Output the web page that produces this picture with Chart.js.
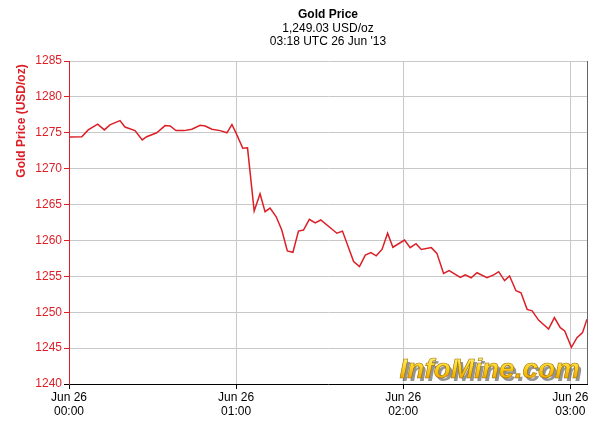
<!DOCTYPE html>
<html>
<head>
<meta charset="utf-8">
<script src="https://cdn.jsdelivr.net/npm/chart.js@4"></script>
<style>
  html, body { margin: 0; padding: 0; background: #ffffff; }
  canvas { display: block; }
</style>
</head>
<body>
<canvas id="c" width="600" height="428"></canvas>
<script>
// Minutes after 00:00 UTC, Jun 26
const minutes = [0, 4.6, 6.9, 10.3, 12.7, 14.7, 18.3, 20.1, 23.7, 26.3, 27.9, 31.5, 34.5, 36.3, 38.4, 41.3, 44.1, 47.1, 48.9, 51.3, 54.3, 56.7, 58.5, 60.0, 62.4, 64.1, 66.5, 68.6, 70.4, 72.2, 74.4, 76.4, 78.4, 80.4, 82.4, 84.2, 86.3, 88.4, 90.4, 96.2, 98.2, 102.2, 104.3, 106.4, 108.4, 110.3, 112.4, 114.4, 116.3, 120.5, 122.5, 124.6, 126.5, 130.1, 132.1, 134.5, 136.5, 140.5, 142.3, 144.4, 146.5, 150.1, 152.5, 154.3, 156.4, 158.2, 160.5, 162.3, 164.5, 166.3, 168.6, 172.2, 174.3, 176.4, 178.0, 180.4, 182.4, 184.4, 186.0];
const prices = [1274.4, 1274.45, 1275.4, 1276.2, 1275.4, 1276.1, 1276.7, 1275.8, 1275.3, 1274.0, 1274.45, 1275.0, 1276.0, 1275.95, 1275.3, 1275.3, 1275.5, 1276.05, 1275.95, 1275.5, 1275.3, 1275.0, 1276.15, 1274.95, 1272.85, 1272.9, 1264.1, 1266.5, 1264.0, 1264.5, 1263.3, 1261.45, 1258.55, 1258.35, 1261.3, 1261.45, 1262.95, 1262.45, 1262.85, 1261.0, 1261.3, 1257.05, 1256.35, 1257.95, 1258.3, 1257.85, 1258.75, 1261.0, 1259.05, 1260.05, 1259.0, 1259.55, 1258.75, 1259.0, 1258.2, 1255.4, 1255.8, 1254.85, 1255.2, 1254.8, 1255.5, 1254.8, 1255.2, 1255.65, 1254.4, 1255.05, 1253.0, 1252.7, 1250.4, 1250.2, 1248.9, 1247.65, 1249.25, 1247.85, 1247.4, 1245.1, 1246.45, 1247.15, 1249.03];
const xTickValues = [0, 60, 120, 180];
const xTickDates = ["Jun 26", "Jun 26", "Jun 26", "Jun 26"];
const xTickTimes = ["00:00", "01:00", "02:00", "03:00"];
const titleLines = ["Gold Price", "1,249.03 USD/oz", "03:18 UTC 26 Jun '13"];
const yAxisTitle = "Gold Price (USD/oz)";
const watermark = "InfoMine.com";

const RED = '#dc1f26';
const GRID = '#c8c8c8';
const FONT = '"Liberation Sans", Arial, sans-serif';

const points = minutes.map((m, i) => ({ x: m, y: prices[i] }));

const decorPlugin = {
  id: 'decor',
  beforeDatasetsDraw(chart) {
    const ctx = chart.ctx;
    ctx.save();
    // watermark
    ctx.font = 'italic bold 28px ' + FONT;
    ctx.textAlign = 'right';
    ctx.textBaseline = 'alphabetic';
    const tx = 580, ty = 378;
    ctx.fillStyle = 'rgba(60,60,60,0.55)';
    ctx.fillText(watermark, tx + 2.5, ty + 2.5);
    const g = ctx.createLinearGradient(0, ty - 21, 0, ty);
    g.addColorStop(0, '#fff27a');
    g.addColorStop(0.5, '#ffd21f');
    g.addColorStop(1, '#f0a800');
    ctx.fillStyle = g;
    ctx.fillText(watermark, tx, ty);
    ctx.lineWidth = 0.6;
    ctx.strokeStyle = '#9a7000';
    ctx.strokeText(watermark, tx, ty);
    ctx.restore();
  },
  afterDraw(chart) {
    const ctx = chart.ctx;
    const a = chart.chartArea;
    ctx.save();
    // right border
    ctx.strokeStyle = '#666666';
    ctx.lineWidth = 1;
    ctx.beginPath();
    ctx.moveTo(Math.round(a.right) + 0.5, a.top);
    ctx.lineTo(Math.round(a.right) + 0.5, a.bottom);
    ctx.stroke();
    // titles
    const cx = (a.left + a.right) / 2;
    ctx.fillStyle = '#000';
    ctx.textAlign = 'center';
    ctx.textBaseline = 'middle';
    ctx.font = 'bold 12px ' + FONT;
    ctx.fillText(titleLines[0], cx, 15);
    ctx.font = '12px ' + FONT;
    ctx.fillText(titleLines[1], cx, 28.5);
    ctx.fillText(titleLines[2], cx, 42);
    // y axis title
    ctx.translate(22, 121);
    ctx.rotate(-Math.PI / 2);
    ctx.fillStyle = RED;
    ctx.font = 'bold 12px ' + FONT;
    ctx.fillText(yAxisTitle, 0, 0);
    ctx.restore();
  }
};

new Chart(document.getElementById('c'), {
  type: 'line',
  data: {
    datasets: [{
      data: points,
      borderColor: RED,
      borderWidth: 1.5,
      pointRadius: 0,
      tension: 0,
      fill: false
    }]
  },
  options: {
    responsive: false,
    animation: false,
    layout: { padding: { top: 61, right: 13, left: 0, bottom: 0 } },
    plugins: { legend: { display: false }, tooltip: { enabled: false }, title: { display: false } },
    scales: {
      x: {
        type: 'linear',
        min: 0,
        max: 186,
        afterBuildTicks(scale) { scale.ticks = xTickValues.map(v => ({ value: v })); },
        afterFit(scale) { scale.height = 44; },
        border: { display: true, color: '#000000', width: 1 },
        grid: {
          color: (c) => (c.tick && c.tick.value === 0) ? 'rgba(0,0,0,0)' : GRID,
          tickColor: '#000000',
          tickLength: 5,
          lineWidth: 1
        },
        ticks: {
          color: '#000000',
          font: { family: FONT, size: 12 },
          padding: 1,
          maxRotation: 0,
          autoSkip: false,
          callback: (v) => {
            const i = xTickValues.indexOf(v);
            return i >= 0 ? [xTickDates[i], xTickTimes[i]] : '';
          }
        }
      },
      y: {
        min: 1240,
        max: 1285,
        afterFit(scale) { scale.width = 69; },
        border: { display: true, color: RED, width: 1 },
        grid: {
          color: (c) => (c.tick && c.tick.value === 1240) ? 'rgba(0,0,0,0)' : GRID,
          tickColor: (c) => (c.tick && c.tick.value === 1240) ? '#000000' : RED,
          tickLength: 5,
          lineWidth: 1
        },
        ticks: {
          stepSize: 5,
          color: RED,
          font: { family: FONT, size: 12 },
          padding: 2,
          callback: (v) => String(v)
        }
      }
    }
  },
  plugins: [decorPlugin]
});
</script>
</body>
</html>
